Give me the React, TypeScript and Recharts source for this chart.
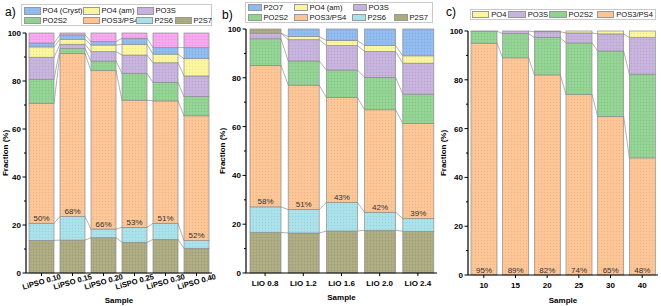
import React from 'react';
import { BarChart, Bar, XAxis, YAxis } from 'recharts';

const FONT = '"Liberation Sans", Arial, sans-serif';

// colours
const C_P2S7 = '#abaa7f';
const C_P2S6 = '#a8e1ea';
const C_POS3 = '#fdc494';
const C_PO2S2 = '#90d391';
const C_PO3S = '#c6b2dd';
const C_PO4AM = '#fbf69c';
const C_BLUE = '#8fbaef';
const C_PINK = '#f6a6ef';

// ---- panel a (segment sizes, %)
const catsA = ['LiPSO 0.10', 'LiPSO 0.15', 'LiPSO 0.20', 'LiSPO 0.25', 'LiPSO 0.30', 'LiPSO 0.40'];
const aP2S7 = [13.6, 13.7, 14.7, 12.8, 14.0, 10.3];
const aP2S6 = [7.1, 9.8, 3.6, 6.2, 6.7, 3.2];
const aPOS3 = [50, 68, 66, 53, 51, 52];
const aPO2S2 = [10.0, 2.0, 4.0, 11.2, 7.7, 8.0];
const aPO3S = [9.2, 1.8, 3.9, 7.6, 8.2, 8.6];
const aPO4am = [4.3, 2.1, 2.8, 4.5, 3.6, 7.2];
const aPO4cryst = [1.6, 1.8, 1.4, 2.5, 2.7, 4.6];
const aOther = [4.2, 0.8, 3.6, 2.2, 6.1, 6.1];

// ---- panel b
const catsB = ['LiO 0.8', 'LiO 1.2', 'LiO 1.6', 'LiO 2.0', 'LiO 2.4'];
const bP2S7 = [16.6, 16.4, 17.2, 17.5, 17.1];
const bP2S6 = [10.5, 9.6, 11.7, 7.4, 5.2];
const bPOS3 = [58, 51, 43, 42, 39];
const bPO2S2 = [10.9, 9.9, 11.3, 13.3, 12.0];
const bPO3S = [2.3, 8.7, 10.0, 10.6, 12.7];
const bPO4am = [0, 1.3, 2.1, 2.4, 3.0];
const bP2O7 = [1.7, 3.1, 4.7, 6.8, 11.0];

// ---- panel c
const catsC = ['10', '15', '20', '25', '30', '40'];
const cPOS3 = [95, 89, 82, 74, 65, 48];
const cPO2S2 = [4.9, 9.9, 15.3, 21.1, 26.8, 34.3];
const cPO3S = [0.1, 1.1, 2.4, 4.1, 7.0, 15.0];
const cPO4 = [0, 0, 0.3, 0.8, 1.2, 2.7];

const yTicks = [0, 10, 20, 30, 40, 50, 60, 70, 80, 90, 100];

type Series = {
  key: string;
  name: string;
  color: string;
  values: number[];
  colors?: (string | undefined)[];
  label?: boolean;
};

type LegendCfg = {
  left: number; top: number; width: number; height: number;
  sw: number; sh: number;
  items: { key: string; x: number; y: number }[];
};

type PanelCfg = {
  id: string;
  letter: string;
  letterPos: [number, number];
  cats: string[];
  series: Series[];
  left: number;
  width: number;
  top: number;
  right: number;
  yWidth: number;
  xHeight: number;
  barSize: number;
  rotate: boolean;
  yTitleDx: number;
  xTitleDy: number;
  legend: LegendCfg;
};

const panels: PanelCfg[] = [
  {
    id: 'a', letter: 'a)', letterPos: [5, 6],
    cats: catsA,
    series: [
      { key: 'P2S7', name: 'P2S7', color: C_P2S7, values: aP2S7 },
      { key: 'P2S6', name: 'P2S6', color: C_P2S6, values: aP2S6 },
      { key: 'POS3', name: 'POS3/PS4', color: C_POS3, values: aPOS3, label: true },
      { key: 'PO2S2', name: 'PO2S2', color: C_PO2S2, values: aPO2S2 },
      { key: 'PO3S', name: 'PO3S', color: C_PO3S, values: aPO3S },
      { key: 'PO4am', name: 'PO4 (am)', color: C_PO4AM, values: aPO4am },
      { key: 'PO4cryst', name: 'PO4 (Cryst)', color: C_BLUE, values: aPO4cryst },
      { key: 'Other', name: 'Other', color: C_PINK, values: aOther },
    ],
    left: 0, width: 221, top: 33, right: 9, yWidth: 26, xHeight: 33, barSize: 25,
    rotate: true, yTitleDx: 5, xTitleDy: 30,
    legend: {
      left: 21, top: 4, width: 191, height: 22, sw: 16.5, sh: 7.5,
      items: [
        { key: 'PO4cryst', x: 3, y: 3.3 }, { key: 'PO4am', x: 62, y: 3.3 }, { key: 'PO3S', x: 116, y: 3.3 },
        { key: 'PO2S2', x: 3, y: 12.7 }, { key: 'POS3', x: 62, y: 12.7 }, { key: 'P2S6', x: 115, y: 12.7 }, { key: 'P2S7', x: 154, y: 12.7 },
      ],
    },
  },
  {
    id: 'b', letter: 'b)', letterPos: [222, 9],
    cats: catsB,
    series: [
      { key: 'P2S7', name: 'P2S7', color: C_P2S7, values: bP2S7 },
      { key: 'P2S6', name: 'P2S6', color: C_P2S6, values: bP2S6 },
      { key: 'POS3', name: 'POS3/PS4', color: C_POS3, values: bPOS3, label: true },
      { key: 'PO2S2', name: 'PO2S2', color: C_PO2S2, values: bPO2S2 },
      { key: 'PO3S', name: 'PO3S', color: C_PO3S, values: bPO3S },
      { key: 'PO4am', name: 'PO4 (am)', color: C_PO4AM, values: bPO4am },
      { key: 'P2O7', name: 'P2O7', color: C_BLUE, values: bP2O7, colors: [C_P2S7] },
    ],
    left: 214, width: 224, top: 29, right: 1, yWidth: 32, xHeight: 33, barSize: 31,
    rotate: false, yTitleDx: 8, xTitleDy: 27,
    legend: {
      left: 245, top: 2, width: 188, height: 21, sw: 13.5, sh: 7,
      items: [
        { key: 'P2O7', x: 3, y: 2 }, { key: 'PO4am', x: 49, y: 2 }, { key: 'PO3S', x: 108, y: 2 },
        { key: 'PO2S2', x: 3, y: 12.3 }, { key: 'POS3', x: 49, y: 12.3 }, { key: 'P2S6', x: 107, y: 12.3 }, { key: 'P2S7', x: 149, y: 12.3 },
      ],
    },
  },
  {
    id: 'c', letter: 'c)', letterPos: [446, 6],
    cats: catsC,
    series: [
      { key: 'POS3', name: 'POS3/PS4', color: C_POS3, values: cPOS3, label: true },
      { key: 'PO2S2', name: 'PO2S2', color: C_PO2S2, values: cPO2S2 },
      { key: 'PO3S', name: 'PO3S', color: C_PO3S, values: cPO3S },
      { key: 'PO4', name: 'PO4', color: C_PO4AM, values: cPO4 },
    ],
    left: 436, width: 225, top: 31, right: 3, yWidth: 32, xHeight: 31, barSize: 26,
    rotate: false, yTitleDx: 7, xTitleDy: 27.5,
    legend: {
      left: 470, top: 9, width: 186, height: 11, sw: 17.5, sh: 7.5,
      items: [
        { key: 'PO4', x: 1.7, y: 1.5 }, { key: 'PO3S', x: 38.3, y: 1.5 }, { key: 'PO2S2', x: 79, y: 1.5 }, { key: 'POS3', x: 126.7, y: 1.5 },
      ],
    },
  },
];

const allColors = [C_P2S7, C_P2S6, C_POS3, C_PO2S2, C_PO3S, C_PO4AM, C_BLUE, C_PINK];
const patId = (c: string) => `dots-${c.slice(1)}`;

// one stacked segment + its connector to the next bar (+ the % label on POS3)
function segShape(p: PanelCfg, s: number) {
  const ser = p.series[s];
  const n = p.cats.length;
  const band = (p.width - p.yWidth - p.right) / n;
  const plotH = 306 - p.top - p.xHeight;
  const cumTop = (i: number) => {
    let t = 0;
    for (let k = 0; k <= s; k++) t += p.series[k].values[i];
    return t;
  };
  return (props: any) => {
    const { x, width, height, index, background } = props;
    const bg = background && background.height > 0 ? background : { y: p.top, height: plotH };
    const py = (v: number) => bg.y + bg.height * (1 - v / 100);
    const fill = (ser.colors && ser.colors[index]) || ser.color;
    const top = cumTop(index);
    const bottom = top - ser.values[index];
    const next = index < n - 1 ? cumTop(index + 1) : null;
    return (
      <g>
        {height > 0.01 && (
          <rect x={x} y={py(top)} width={width} height={py(bottom) - py(top)}
            fill={`url(#${patId(fill)})`} stroke="#8e8e8e" strokeWidth={0.7} />
        )}
        {next !== null && !(top > 99.9 && next > 99.9) && (
          <line x1={x + width} y1={py(top)} x2={x + band} y2={py(next)} stroke="#7d7d7d" strokeWidth={0.6} />
        )}
        {ser.label && (
          <text x={x + width / 2} y={py(bottom) - 2.5} textAnchor="middle" fontSize={8}
            fontFamily={FONT} fill="#333">{`${ser.values[index]}%`}</text>
        )}
      </g>
    );
  };
}

const YTick = (props: any) => {
  const { x, y, payload } = props;
  const v = payload.value;
  const major = v % 20 === 0;
  return (
    <g>
      <line x1={x - (major ? 3.5 : 2)} x2={x} y1={y} y2={y} stroke="#000" strokeWidth={1} />
      {major && (
        <text x={x - 5} y={y + 3} textAnchor="end" fontSize={8} fontWeight="bold" fontFamily={FONT} fill="#000">{v}</text>
      )}
    </g>
  );
};

const makeXTick = (rotate: boolean) => (props: any) => {
  const { x, y, payload } = props;
  if (rotate) {
    const cy = y + 5.5;
    return (
      <text x={x} y={cy} dy={2.8} textAnchor="middle" transform={`rotate(-16, ${x}, ${cy})`}
        fontSize={7.6} fontWeight="bold" fontFamily={FONT} fill="#000">{payload.value}</text>
    );
  }
  return (
    <text x={x} y={y + 9.8} textAnchor="middle" fontSize={8} fontWeight="bold" fontFamily={FONT} fill="#000">{payload.value}</text>
  );
};

function Panel({ cfg }: { cfg: PanelCfg }) {
  const rows = cfg.cats.map((name, i) => {
    const row: Record<string, any> = { name };
    cfg.series.forEach((s) => { row[s.key] = s.values[i]; });
    return row;
  });
  const plotH = 306 - cfg.top - cfg.xHeight;
  const plotW = cfg.width - cfg.yWidth - cfg.right;
  return (
    <div style={{ position: 'absolute', left: cfg.left, top: 0 }}>
      <BarChart width={cfg.width} height={306} data={rows}
        margin={{ top: cfg.top, right: cfg.right, left: 0, bottom: 0 }}>
        <XAxis dataKey="name" height={cfg.xHeight} interval={0} tickSize={3} tickMargin={0}
          tickLine={{ stroke: '#000', strokeWidth: 1 }} axisLine={{ stroke: '#000', strokeWidth: 1.2 }}
          tick={makeXTick(cfg.rotate)}
          label={(lp: any) => {
            const vb = lp && lp.viewBox ? lp.viewBox : { x: cfg.yWidth, y: cfg.top + plotH, width: plotW };
            return (
              <text x={vb.x + vb.width / 2} y={vb.y + cfg.xTitleDy} textAnchor="middle" fontSize={8}
                fontWeight="bold" fontFamily={FONT} fill="#000">Sample</text>
            );
          }} />
        <YAxis type="number" domain={[0, 100]} ticks={yTicks} interval={0} width={cfg.yWidth}
          tickSize={0} tickMargin={0} tickLine={false} axisLine={{ stroke: '#000', strokeWidth: 1.2 }}
          tick={(tp: any) => <YTick {...tp} />}
          label={() => {
            const cx = cfg.yTitleDx;
            const cy = cfg.top + plotH / 2;
            return (
              <text x={cx} y={cy} dy={3} textAnchor="middle" transform={`rotate(-90, ${cx}, ${cy})`}
                fontSize={8} fontWeight="bold" fontFamily={FONT} fill="#000">Fraction (%)</text>
            );
          }} />
        {cfg.series.map((s, si) => (
          <Bar key={s.key} dataKey={s.key} stackId="st" fill={s.color} barSize={cfg.barSize}
            shape={segShape(cfg, si)} isAnimationActive={false} />
        ))}
      </BarChart>
    </div>
  );
}

function LegendBox({ cfg }: { cfg: PanelCfg }) {
  const lg = cfg.legend;
  return (
    <div style={{
      position: 'absolute', left: lg.left, top: lg.top, width: lg.width, height: lg.height,
      border: '1px solid #c9c9c9', boxSizing: 'border-box', background: '#fff',
    }}>
      {lg.items.map((it) => {
        const s = cfg.series.find((q) => q.key === it.key)!;
        return (
          <div key={it.key} style={{ position: 'absolute', left: it.x - 1, top: it.y - 1, display: 'flex', alignItems: 'center', whiteSpace: 'nowrap' }}>
            <div style={{ width: lg.sw, height: lg.sh, background: s.color, border: '0.5px solid #999', boxSizing: 'border-box' }} />
            <span style={{ fontSize: 7.6, marginLeft: 2, color: '#111', lineHeight: `${lg.sh}px` }}>{s.name}</span>
          </div>
        );
      })}
    </div>
  );
}

export default function App() {
  return (
    <div style={{ position: 'absolute', left: 0, top: 0, width: 661, height: 306, background: '#fff', fontFamily: FONT, overflow: 'hidden' }}>
      <svg width={0} height={0} style={{ position: 'absolute' }}>
        <defs>
          {allColors.map((c) => (
            <pattern key={c} id={patId(c)} width={3} height={3} patternUnits="userSpaceOnUse">
              <rect width={3} height={3} fill={c} />
              <rect x={0} y={0} width={1} height={1} fill="#000" opacity={0.07} />
              <rect x={1.5} y={1.5} width={1} height={1} fill="#fff" opacity={0.2} />
            </pattern>
          ))}
        </defs>
      </svg>
      {panels.map((p) => <Panel key={p.id} cfg={p} />)}
      {panels.map((p) => <LegendBox key={`lg-${p.id}`} cfg={p} />)}
      {panels.map((p) => (
        <div key={`lt-${p.id}`} style={{ position: 'absolute', left: p.letterPos[0], top: p.letterPos[1], fontSize: 12, lineHeight: '12px', color: '#000' }}>
          {p.letter}
        </div>
      ))}
    </div>
  );
}
